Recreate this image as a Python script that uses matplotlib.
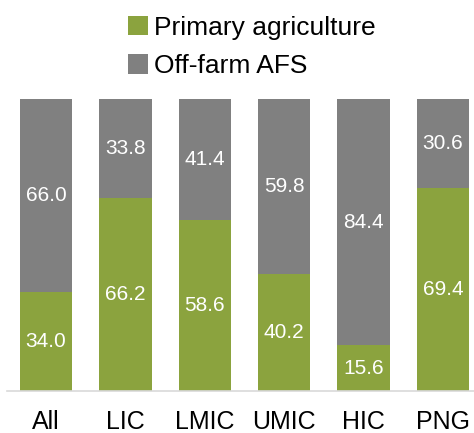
import numpy as np
import matplotlib.pyplot as plt

plt.rcParams['font.family'] = ['Liberation Sans', 'DejaVu Sans']

groups = ["All", "LIC", "LMIC", "UMIC", "HIC", "PNG"]
primary = [34.0, 66.2, 58.6, 40.2, 15.6, 69.4]
off_farm = [66.0, 33.8, 41.4, 59.8, 84.4, 30.6]

green = '#8ba33e'
grey = '#808080'

fig = plt.figure(figsize=(4.74, 4.33), dpi=100)
ax = fig.add_axes([7 / 474, 42 / 433, 467 / 474, 292 / 433])

x = np.arange(len(groups))
w = 0.66
b1 = ax.bar(x, primary, w, color=green, label='Primary agriculture')
b2 = ax.bar(x, off_farm, w, bottom=primary, color=grey, label='Off-farm AFS')

for i in range(len(groups)):
    ax.text(x[i], primary[i] / 2, f"{primary[i]:.1f}", ha='center', va='center',
            color='white', fontsize=15)
    ax.text(x[i], primary[i] + off_farm[i] / 2, f"{off_farm[i]:.1f}", ha='center',
            va='center', color='white', fontsize=15)

ax.set_xlim(-0.49, 5.39)
ax.set_ylim(0, 100)
ax.set_yticks([])
ax.set_xticks(x)
ax.set_xticklabels(groups, fontsize=18)
ax.tick_params(axis='x', length=0, pad=13.5)
for s in ['top', 'left', 'right']:
    ax.spines[s].set_visible(False)
ax.spines['bottom'].set_color('#d9d9d9')
ax.spines['bottom'].set_linewidth(1.2)

fig.legend(handles=[b1, b2], loc='upper left', bbox_to_anchor=(112 / 474, 1.0),
           frameon=False, fontsize=19, handlelength=0.75, handleheight=0.75,
           handletextpad=0.25, labelspacing=0.55, borderaxespad=0.2)

fig.savefig('out.png', dpi=100)
